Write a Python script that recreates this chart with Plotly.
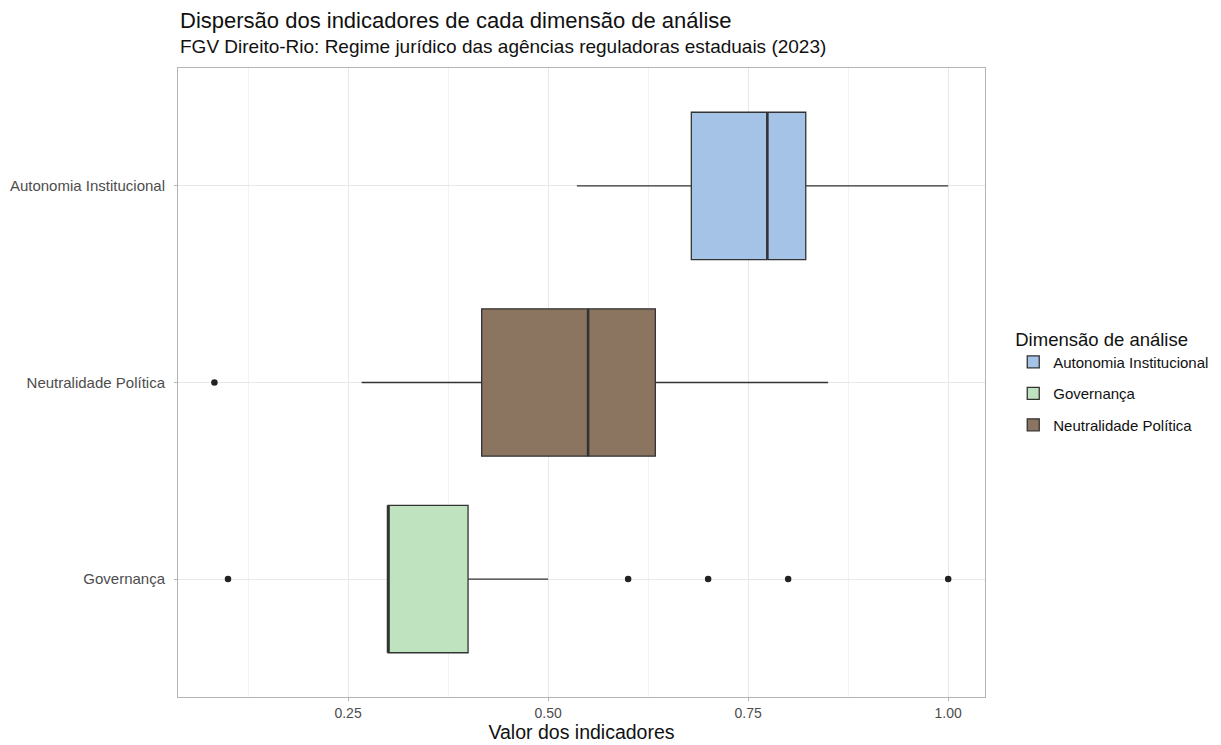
import plotly.graph_objects as go

# ---- data ----
categories = ["Autonomia Institucional", "Governança", "Neutralidade Política"]
positions = [2, 0, 1]  # vertical slot of each category (0 = bottom)
q1 = [0.679, 0.30, 0.417]
median = [0.774, 0.30, 0.550]
q3 = [0.822, 0.40, 0.634]
lower_whisker = [0.536, 0.30, 0.267]
upper_whisker = [1.00, 0.50, 0.850]
outliers = [[], [0.10, 0.60, 0.70, 0.80, 1.00], [0.083]]
fill_colors = ["#A5C3E7", "#BEE3BE", "#8B7561"]

y_tick_pos = [0, 1, 2]
y_tick_text = ["Governança", "Neutralidade Política", "Autonomia Institucional"]
x_tick_vals = [0.25, 0.50, 0.75, 1.00]
x_tick_text = ["0.25", "0.50", "0.75", "1.00"]
x_minor_vals = [0.125, 0.375, 0.625, 0.875]

BOX_W = 0.75
FONT = "Liberation Sans, Arial, Helvetica, sans-serif"
EDGE = "#333333"

fig = go.Figure()

for i, cat in enumerate(categories):
    fig.add_trace(go.Box(
        name=cat,
        y=[positions[i]],
        q1=[q1[i]], median=[median[i]], q3=[q3[i]],
        lowerfence=[lower_whisker[i]], upperfence=[upper_whisker[i]],
        orientation="h",
        width=BOX_W,
        whiskerwidth=0,
        fillcolor=fill_colors[i],
        line=dict(color=EDGE, width=1.3),
        boxpoints=False,
        legendgroup=cat,
        hoverinfo="skip",
    ))

# thicker median lines (ggplot fatten)
mx, my = [], []
for i in range(len(categories)):
    mx += [median[i], median[i], None]
    my += [positions[i] - BOX_W / 2, positions[i] + BOX_W / 2, None]
fig.add_trace(go.Scatter(x=mx, y=my, mode="lines",
                         line=dict(color=EDGE, width=2.6),
                         showlegend=False, hoverinfo="skip"))

# outliers
ox, oy = [], []
for i in range(len(categories)):
    for v in outliers[i]:
        ox.append(v)
        oy.append(positions[i])
fig.add_trace(go.Scatter(x=ox, y=oy, mode="markers",
                         marker=dict(color="#222222", size=6.5),
                         showlegend=False, hoverinfo="skip"))

fig.update_layout(
    width=1221, height=745,
    paper_bgcolor="white", plot_bgcolor="white",
    font=dict(family=FONT, color="#222222"),
    boxmode="overlay",
    margin=dict(l=170, r=244, t=60, b=56, autoexpand=False),
    showlegend=True,
    legend=dict(
        title=dict(text="Dimensão de análise", font=dict(size=18.5, color="#111111")),
        font=dict(size=15, color="#111111"),
        x=1.035, xanchor="left", y=0.597, yanchor="top",
        traceorder="grouped", tracegroupgap=9,
        bgcolor="rgba(0,0,0,0)",
    ),
    annotations=[
        dict(text="Dispersão dos indicadores de cada dimensão de análise",
             xref="paper", yref="paper", x=0, y=1, xanchor="left", yanchor="bottom",
             yshift=33, showarrow=False, font=dict(size=22, color="#111111")),
        dict(text="FGV Direito-Rio: Regime jurídico das agências reguladoras estaduais (2023)",
             xref="paper", yref="paper", x=0, y=1, xanchor="left", yanchor="bottom",
             yshift=9, showarrow=False, font=dict(size=19, color="#111111")),
    ],
)

fig.update_xaxes(
    range=[0.0375, 1.046],
    tickmode="array", tickvals=x_tick_vals, ticktext=x_tick_text,
    showgrid=True, gridcolor="#E8E8E8", gridwidth=1,
    minor=dict(tickmode="array", tickvals=x_minor_vals, showgrid=True,
               gridcolor="#F3F3F3", gridwidth=1, ticklen=0),
    ticks="outside", ticklen=3, tickcolor="#B3B3B3",
    tickfont=dict(size=14, color="#4D4D4D"),
    title=dict(text="Valor dos indicadores", font=dict(size=19.5, color="#111111"), standoff=2),
    showline=True, linecolor="#B3B3B3", linewidth=1, mirror=True,
    zeroline=False, automargin=False,
)
fig.update_yaxes(
    range=[-0.6, 2.6],
    tickmode="array", tickvals=y_tick_pos, ticktext=y_tick_text,
    showgrid=True, gridcolor="#E8E8E8", gridwidth=1,
    ticks="outside", ticklen=3, tickcolor="#B3B3B3",
    tickfont=dict(size=15, color="#4D4D4D"),
    ticklabelstandoff=6,
    showline=True, linecolor="#B3B3B3", linewidth=1, mirror=True,
    zeroline=False, automargin=False,
)

fig.write_html("out.html")
